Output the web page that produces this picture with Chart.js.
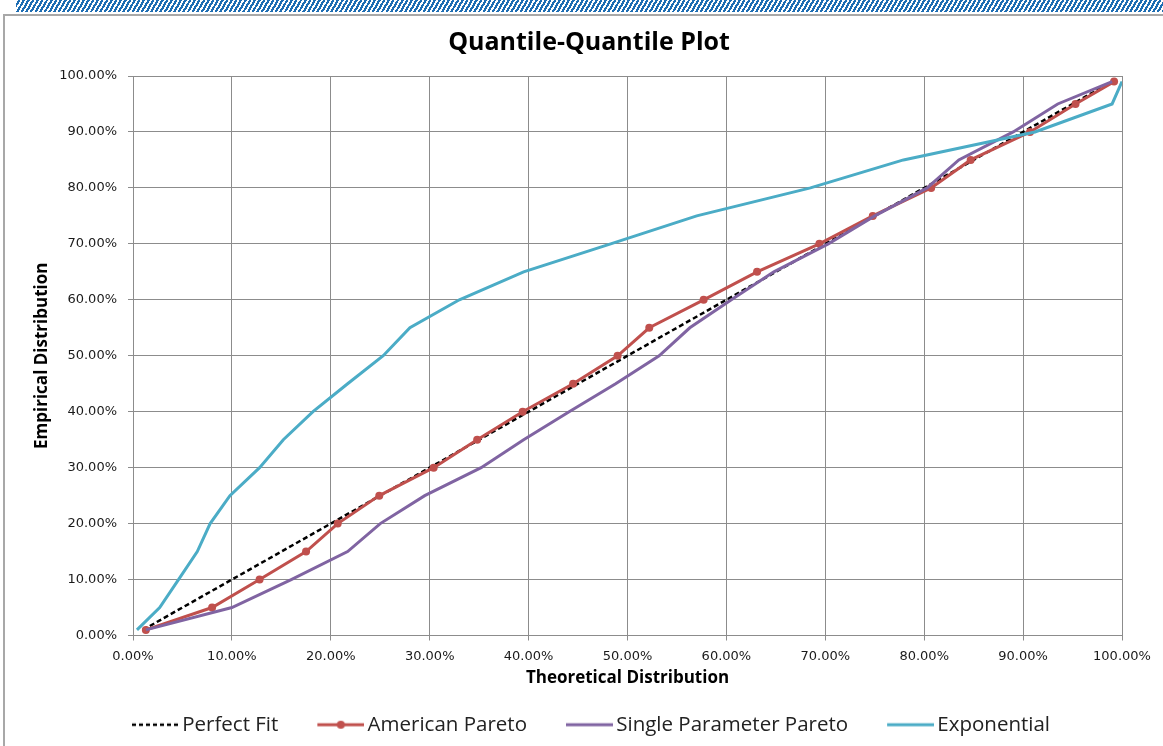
<!DOCTYPE html>
<html>
<head>
<meta charset="utf-8">
<script src="https://cdn.jsdelivr.net/npm/chart.js@4"></script>
<style>
  body{margin:0;background:#fff;width:1163px;height:746px;overflow:hidden;position:relative}
  #rayas{position:absolute;left:16px;top:0;width:1147px;height:12px;
    background:repeating-linear-gradient(120deg,#fff 0 1.8px,#1d6db3 1.8px 4px)}
  #marco{position:absolute;left:3px;top:14px;width:1160px;height:732px;
    border-left:2px solid #a8a8a8;border-top:2px solid #a8a8a8}
  #caja{position:absolute;left:5px;top:16px;width:1158px;height:730px}
</style>
</head>
<body>
<div id="rayas"></div>
<div id="marco"></div>
<div id="caja"><canvas id="grafica"></canvas></div>
<script>
// cuantiles empiricos (eje y) y teoricos (eje x) en %
const cuantiles = [1, 5, 10, 15, 20, 25, 30, 35, 40, 45, 50, 55, 60, 65, 70, 75, 80, 85, 90, 95, 99];
const paretoAmericana = [1.3, 8.0, 12.8, 17.5, 20.7, 24.9, 30.4, 34.8, 39.4, 44.5, 49.0, 52.2, 57.7, 63.1, 69.4, 74.8, 80.7, 84.7, 90.7, 95.3, 99.2];
const paretoSimple = [1.3, 10.0, 16.0, 21.7, 25.0, 29.5, 35.2, 39.5, 44.1, 48.8, 53.2, 56.3, 60.5, 64.8, 70.3, 75.0, 80.3, 83.5, 89.0, 93.5, 99.0];
const exponencial = [0.4, 2.7, 4.6, 6.5, 7.8, 9.8, 12.8, 15.2, 18.2, 21.7, 25.3, 28.0, 33.0, 39.5, 48.3, 57.0, 68.5, 77.9, 91.2, 99.0, 100];
const ajusteX = [1, 99];
const ajusteY = [1, 99];
const marcas = [0, 10, 20, 30, 40, 50, 60, 70, 80, 90, 100];

const nombres = ['Perfect Fit', 'American Pareto', 'Single Parameter Pareto', 'Exponential'];
const colores = ['#000000', '#c0504d', '#8064a2', '#4bacc6'];

let puntos = (xs, ys) => xs.map((x, i) => ({x: x, y: ys[i]}));

// simbolos de la leyenda (linea, discontinua o con punto)
function simbolo(color, guiones, punto) {
  const c = document.createElement('canvas');
  c.width = 58; c.height = 14;
  const g = c.getContext('2d');
  g.strokeStyle = color;
  g.lineWidth = guiones.length ? 2.5 : 3;
  g.setLineDash(guiones);
  g.beginPath();
  g.moveTo(11, 7);
  g.lineTo(58, 7);
  g.stroke();
  if (punto) {
    g.fillStyle = color;
    g.beginPath();
    g.arc(34.5, 7, 4, 0, Math.PI * 2);
    g.fill();
  }
  return c;
}
const simbolos = [
  simbolo(colores[0], [4, 3], false),
  simbolo(colores[1], [], true),
  simbolo(colores[2], [], false),
  simbolo(colores[3], [], false)
];

const fuenteEjes = {family: 'DejaVu Sans', size: 13};
const fuenteTitulos = {family: 'Open Sans', size: 17, weight: 'bold'};

new Chart(document.getElementById('grafica'), {
  type: 'scatter',
  data: {
    datasets: [
      {label: nombres[0], data: puntos(ajusteX, ajusteY), showLine: true, borderColor: colores[0],
       borderWidth: 2.5, borderDash: [5, 3], pointRadius: 0, order: 4},
      {label: nombres[1], data: puntos(paretoAmericana, cuantiles), showLine: true, borderColor: colores[1],
       backgroundColor: colores[1], borderWidth: 3, pointRadius: 4, pointBorderWidth: 0, order: 3},
      {label: nombres[2], data: puntos(paretoSimple, cuantiles), showLine: true, borderColor: colores[2],
       borderWidth: 3, pointRadius: 0, order: 2},
      {label: nombres[3], data: puntos(exponencial, cuantiles), showLine: true, borderColor: colores[3],
       borderWidth: 3, pointRadius: 0, order: 1}
    ]
  },
  options: {
    responsive: true,
    maintainAspectRatio: false,
    animation: false,
    layout: {padding: {left: 10, right: 0, top: 0, bottom: 1}},
    plugins: {
      title: {
        display: true,
        text: 'Quantile-Quantile Plot',
        color: '#000',
        font: {family: 'Open Sans', size: 25, weight: 'bold'},
        padding: {top: 12, bottom: 18}
      },
      legend: {
        position: 'bottom',
        labels: {
          usePointStyle: true,
          pointStyleWidth: 44,
          padding: 35,
          color: '#222',
          font: {family: 'Open Sans', size: 20.5},
          generateLabels: (chart) => chart.data.datasets.map((ds, i) => ({
            text: ds.label, pointStyle: simbolos[i], datasetIndex: i,
            hidden: false, lineWidth: 0, fontColor: '#222'
          }))
        }
      },
      tooltip: {enabled: false}
    },
    scales: {
      x: {
        type: 'linear', min: 0, max: 100,
        afterBuildTicks: (eje) => { eje.ticks = marcas.map(v => ({value: v})); },
        afterFit: (eje) => { eje.height = 44; },
        grid: {color: '#8c8c8c', lineWidth: 1, tickLength: 5},
        border: {color: '#8c8c8c'},
        ticks: {color: '#1a1a1a', font: fuenteEjes, padding: 8, maxRotation: 0,
                callback: (v) => v.toFixed(2) + '%'},
        title: {display: true, text: 'Theoretical Distribution', color: '#000',
                font: fuenteTitulos, padding: {top: 0, bottom: -9.2}}
      },
      y: {
        type: 'linear', min: 0, max: 100,
        afterBuildTicks: (eje) => { eje.ticks = marcas.map(v => ({value: v})); },
        afterFit: (eje) => { eje.width = 118; },
        grid: {color: '#8c8c8c', lineWidth: 1, tickLength: 5},
        border: {color: '#8c8c8c'},
        ticks: {color: '#1a1a1a', font: fuenteEjes, padding: 11,
                callback: (v) => v.toFixed(2) + '%'},
        title: {display: true, text: 'Empirical Distribution', color: '#000',
                font: fuenteTitulos, padding: {top: 17, bottom: 0}}
      },
      margen: {
        type: 'linear', position: 'right', display: true,
        afterFit: (eje) => { eje.width = 41; },
        ticks: {display: false},
        grid: {display: false, drawTicks: false},
        border: {display: false}
      }
    }
  }
});
</script>
</body>
</html>
